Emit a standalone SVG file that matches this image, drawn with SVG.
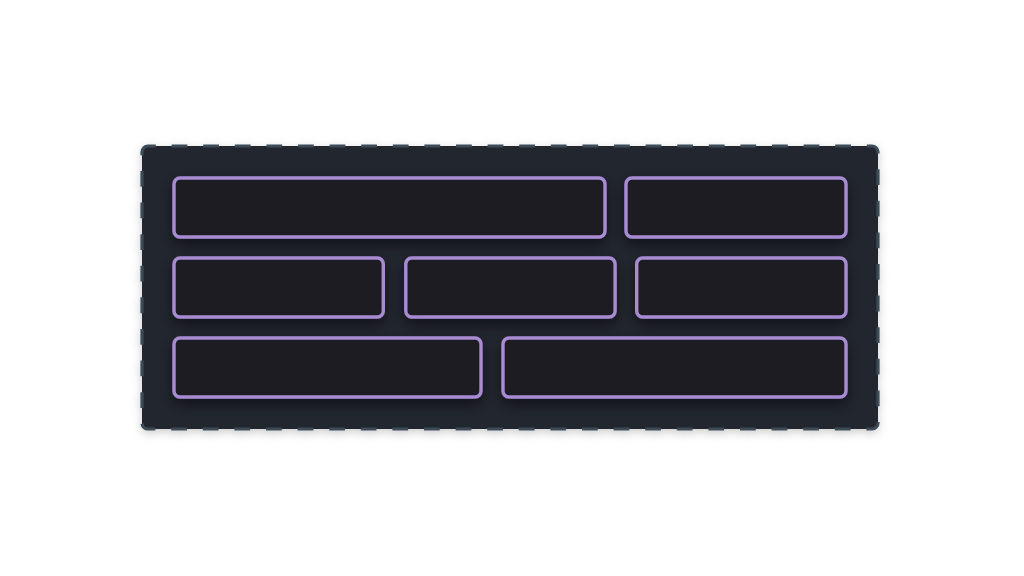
<svg xmlns="http://www.w3.org/2000/svg" width="1024" height="576" viewBox="0 0 1024 576">
<defs>
<filter id="sh" x="-20%" y="-60%" width="140%" height="220%">
<feDropShadow dx="0" dy="6" stdDeviation="7" flood-color="#000" flood-opacity="0.5"/>
</filter>
<filter id="csh" x="-10%" y="-20%" width="120%" height="140%">
<feDropShadow dx="0" dy="3" stdDeviation="5" flood-color="#000" flood-opacity="0.2"/>
</filter>
</defs>
<style>
.container{fill:#22272e;stroke:#3e4b59;stroke-width:3.2;stroke-dasharray:15.8 15.8;stroke-dashoffset:8;}
.box{fill:#1b1e24;stroke:#a98bd3;stroke-width:3.4;}
</style>
<rect width="1024" height="576" fill="#ffffff"/>
<g id="container">
<rect class="container" x="142" y="146" width="736" height="283" rx="6" filter="url(#csh)"/>
</g>
<g id="connectors"></g>
<g id="node1"><rect class="box" x="174" y="178" width="431" height="59" rx="6" filter="url(#sh)"/></g>
<g id="node2"><rect class="box" x="626" y="178" width="220" height="59" rx="6" filter="url(#sh)"/></g>
<g id="node3"><rect class="box" x="174" y="258" width="209.3" height="59" rx="6" filter="url(#sh)"/></g>
<g id="node4"><rect class="box" x="405.8" y="258" width="209.3" height="59" rx="6" filter="url(#sh)"/></g>
<g id="node5"><rect class="box" x="636.7" y="258" width="209.3" height="59" rx="6" filter="url(#sh)"/></g>
<g id="node6"><rect class="box" x="174" y="338" width="307" height="59" rx="6" filter="url(#sh)"/></g>
<g id="node7"><rect class="box" x="503" y="338" width="343" height="59" rx="6" filter="url(#sh)"/></g>
</svg>
